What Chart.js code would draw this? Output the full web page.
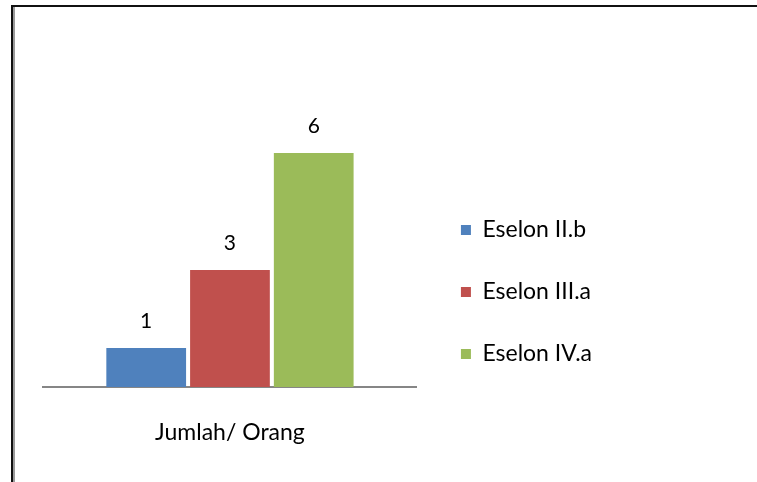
<!DOCTYPE html>
<html>
<head>
<meta charset="utf-8">
<script src="https://cdn.jsdelivr.net/npm/chart.js@4.4.0/dist/chart.umd.min.js"></script>
<style>
  html, body { margin: 0; padding: 0; background: #fff; }
  #wrap { position: relative; width: 757px; height: 482px; overflow: hidden; }
  #frame1 { position: absolute; left: 11px; top: 5px; right: -5px; bottom: -5px; border-top: 2px solid #111; border-left: 2px solid #111; }
  #frame2 { position: absolute; left: 13px; top: 7px; width: 2px; bottom: 0; background: #9a9a9a; }
  canvas { position: absolute; left: 0; top: 0; }
</style>
</head>
<body>
<div id="wrap">
  <div id="frame1"></div>
  <div id="frame2"></div>
  <canvas id="c" width="757" height="482"></canvas>
</div>
<script>
const categories = ['Jumlah/ Orang'];
const seriesNames = ['Eselon II.b', 'Eselon III.a', 'Eselon IV.a'];
const seriesValues = [[1], [3], [6]];
const seriesColors = ['#4F81BD', '#C0504D', '#9BBB59'];

const FONT = 'Lato, "Open Sans", sans-serif';

const valueLabels = {
  id: 'valueLabels',
  afterDatasetsDraw(chart) {
    const ctx = chart.ctx;
    ctx.save();
    ctx.font = '21px ' + FONT;
    ctx.fillStyle = '#000';
    ctx.textAlign = 'center';
    ctx.textBaseline = 'middle';
    chart.data.datasets.forEach((ds, i) => {
      const meta = chart.getDatasetMeta(i);
      meta.data.forEach((bar, j) => {
        ctx.fillText(String(ds.data[j]), bar.x, bar.y - 27);
      });
    });
    ctx.restore();
  }
};

// leave a small gap between the plot area and the legend
const legendGap = {
  id: 'legendGap',
  beforeDraw(chart) {
    const lg = chart.legend;
    const w = lg.right - lg.left;
    lg.left = chart.chartArea.right + 5;
    lg.right = lg.left + w;
  }
};

new Chart(document.getElementById('c'), {
  type: 'bar',
  data: {
    labels: categories,
    datasets: seriesNames.map((n, i) => ({
      label: n,
      data: seriesValues[i],
      backgroundColor: seriesColors[i],
      borderWidth: 0
    }))
  },
  options: {
    responsive: false,
    animation: false,
    devicePixelRatio: 1,
    layout: { padding: { left: 43, right: 160, top: 102, bottom: 0 } },
    categoryPercentage: 0.672,
    barPercentage: 0.952,
    scales: {
      x: {
        grid: { display: false, drawTicks: false },
        border: { display: true, color: '#868686', width: 2 },
        ticks: { padding: 32, color: '#000', font: { family: FONT, size: 23 } },
        afterFit(scale) { scale.height = 95; }
      },
      y: {
        display: false,
        min: 0,
        max: 7.31
      }
    },
    plugins: {
      tooltip: { enabled: false },
      legend: {
        position: 'right',
        labels: {
          boxWidth: 10,
          boxHeight: 10,
          padding: 39,
          color: '#000',
          font: { family: FONT, size: 23 }
        }
      }
    }
  },
  plugins: [valueLabels, legendGap]
});
</script>
</body>
</html>
